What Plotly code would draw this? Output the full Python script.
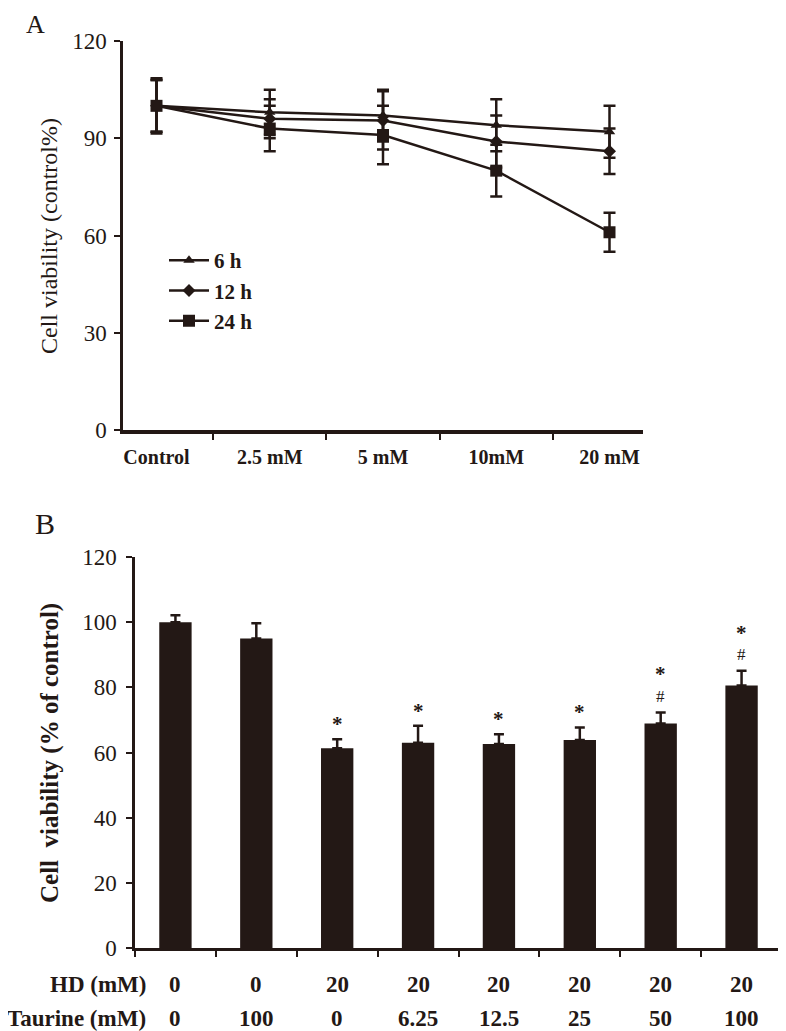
import plotly.graph_objects as go

# page body has an 8px default margin, so the figure is placed 8px in
OFF = 8
W, H = 786 - OFF, 1031 - OFF
INK = "#231815"
SERIF = "Liberation Serif, Times New Roman, serif"

# ---------- Panel A data ----------
conc_labels = ["Control", "2.5 mM", "5 mM", "10mM", "20 mM"]
series_names = ["6 h", "12 h", "24 h"]
v6 = [100, 98, 97, 94, 92]
e6 = [8, 7, 8, 8, 8]
v12 = [100, 96, 95.5, 89, 86]
e12 = [8, 6, 9, 8, 7]
v24 = [100, 93, 91, 80, 61]
e24 = [8.5, 7, 9, 8, 6]
symbols = ["triangle-up", "diamond", "square"]
msizes = [10, 10, 12]

# ---------- Panel B data ----------
groups = ["g1", "g2", "g3", "g4", "g5", "g6", "g7", "g8"]
hd_labels = ["0", "0", "20", "20", "20", "20", "20", "20"]
taurine_labels = ["0", "100", "0", "6.25", "12.5", "25", "50", "100"]
viab = [100, 95, 61.3, 63, 62.6, 63.8, 68.9, 80.6]
viab_err = [2.1, 4.7, 2.8, 5.2, 3.0, 3.9, 3.4, 4.5]
star = [False, False, True, True, True, True, True, True]
hash_ = [False, False, False, False, False, False, True, True]


def px_x(p):
    return (p - OFF) / W


def px_y(p):
    return 1 - (p - OFF) / H


fig = go.Figure()

for name, vals, errs, sym, ms in zip(series_names, [v6, v12, v24], [e6, e12, e24], symbols, msizes):
    fig.add_trace(go.Scatter(
        x=conc_labels, y=vals, name="<b>" + name + "</b>", mode="lines+markers",
        line=dict(color=INK, width=2.5),
        marker=dict(symbol=sym, size=ms, color=INK),
        error_y=dict(type="data", array=errs, color=INK, thickness=2.5, width=6),
        xaxis="x", yaxis="y",
    ))

fig.add_trace(go.Bar(
    x=groups, y=viab, width=0.4, marker=dict(color=INK, line=dict(width=0)),
    error_y=dict(type="data", array=viab_err, arrayminus=[0] * len(viab), symmetric=False,
                 color=INK, thickness=2.5, width=5),
    xaxis="x2", yaxis="y2", showlegend=False,
))

ann = []
for g, v, e, s, h in zip(groups, viab, viab_err, star, hash_):
    top = v + e
    if h:
        ann.append(dict(x=g, y=top, xref="x2", yref="y2", text="#", showarrow=False,
                        yanchor="middle", yshift=16,
                        font=dict(family=SERIF, size=17, color=INK)))
    if s:
        ann.append(dict(x=g, y=top, xref="x2", yref="y2", text="<b>*</b>", showarrow=False,
                        yanchor="middle", yshift=(38 if h else 15),
                        font=dict(family=SERIF, size=21, color=INK)))

for g, hd, ta in zip(groups, hd_labels, taurine_labels):
    ann.append(dict(x=g, y=px_y(984), xref="x2", yref="paper", text="<b>" + hd + "</b>",
                    showarrow=False, yanchor="middle",
                    font=dict(family=SERIF, size=23, color=INK)))
    ann.append(dict(x=g, y=px_y(1018), xref="x2", yref="paper", text="<b>" + ta + "</b>",
                    showarrow=False, yanchor="middle",
                    font=dict(family=SERIF, size=23, color=INK)))

ann.append(dict(x=px_x(148), y=px_y(984), xref="paper", yref="paper", text="<b>HD (mM)</b>",
                showarrow=False, xanchor="right", yanchor="middle",
                font=dict(family=SERIF, size=23, color=INK)))
ann.append(dict(x=px_x(148), y=px_y(1018), xref="paper", yref="paper", text="<b>Taurine (mM)</b>",
                showarrow=False, xanchor="right", yanchor="middle",
                font=dict(family=SERIF, size=23, color=INK)))

ann.append(dict(x=px_x(24), y=px_y(OFF), xref="paper", yref="paper", text="A", showarrow=False,
                xanchor="left", yanchor="top", font=dict(family=SERIF, size=26, color=INK)))
ann.append(dict(x=px_x(33), y=px_y(523), xref="paper", yref="paper", text="B", showarrow=False,
                xanchor="left", yanchor="middle", font=dict(family=SERIF, size=30, color=INK)))
ann.append(dict(x=px_x(49), y=px_y(236), xref="paper", yref="paper", text="Cell viability (control%)",
                textangle=-90, showarrow=False, xanchor="center", yanchor="middle",
                font=dict(family=SERIF, size=24, color=INK)))
ann.append(dict(x=px_x(50), y=px_y(753), xref="paper", yref="paper",
                text="<b>Cell  viability (% of control)</b>",
                textangle=-90, showarrow=False, xanchor="center", yanchor="middle",
                font=dict(family=SERIF, size=25, color=INK)))

axis_common = dict(showgrid=False, zeroline=False, showline=True, linecolor=INK,
                   ticks="outside", tickcolor=INK, tickwidth=2, automargin=False)

fig.update_layout(
    template="none",
    width=W, height=H, margin=dict(l=0, r=0, t=0, b=0, pad=0),
    paper_bgcolor="white", plot_bgcolor="white",
    annotations=ann,
    xaxis=dict(domain=[px_x(123), px_x(643)], anchor="y", type="category",
               tickson="boundaries", ticklen=6, linewidth=3.5,
               tickfont=dict(family=SERIF, size=20, color=INK),
               tickprefix="<b>", ticksuffix="</b>", ticklabelstandoff=6,
               **axis_common),
    yaxis=dict(domain=[px_y(430), px_y(41)], anchor="x", range=[0, 120],
               tickvals=[0, 30, 60, 90, 120], ticklen=6, linewidth=2.5,
               tickfont=dict(family=SERIF, size=23, color=INK), ticklabelstandoff=3,
               **axis_common),
    xaxis2=dict(domain=[px_x(135), px_x(782)], anchor="y2", type="category",
                tickson="boundaries", ticklen=6, linewidth=2.5, showticklabels=False,
                **axis_common),
    yaxis2=dict(domain=[px_y(948), px_y(557)], anchor="x2", range=[0, 120],
                tickvals=[0, 20, 40, 60, 80, 100, 120], ticklen=6, linewidth=2.5,
                tickfont=dict(family=SERIF, size=23, color=INK),
                tickprefix="<b>", ticksuffix="</b>", ticklabelstandoff=5,
                **axis_common),
    legend=dict(x=px_x(164), y=px_y(240), xanchor="left", yanchor="top",
                bgcolor="rgba(0,0,0,0)", font=dict(family=SERIF, size=21, color=INK),
                tracegroupgap=0, itemwidth=40, itemsizing="trace"),
    bargap=0.6,
    showlegend=True,
)

fig.write_html("out.html")
